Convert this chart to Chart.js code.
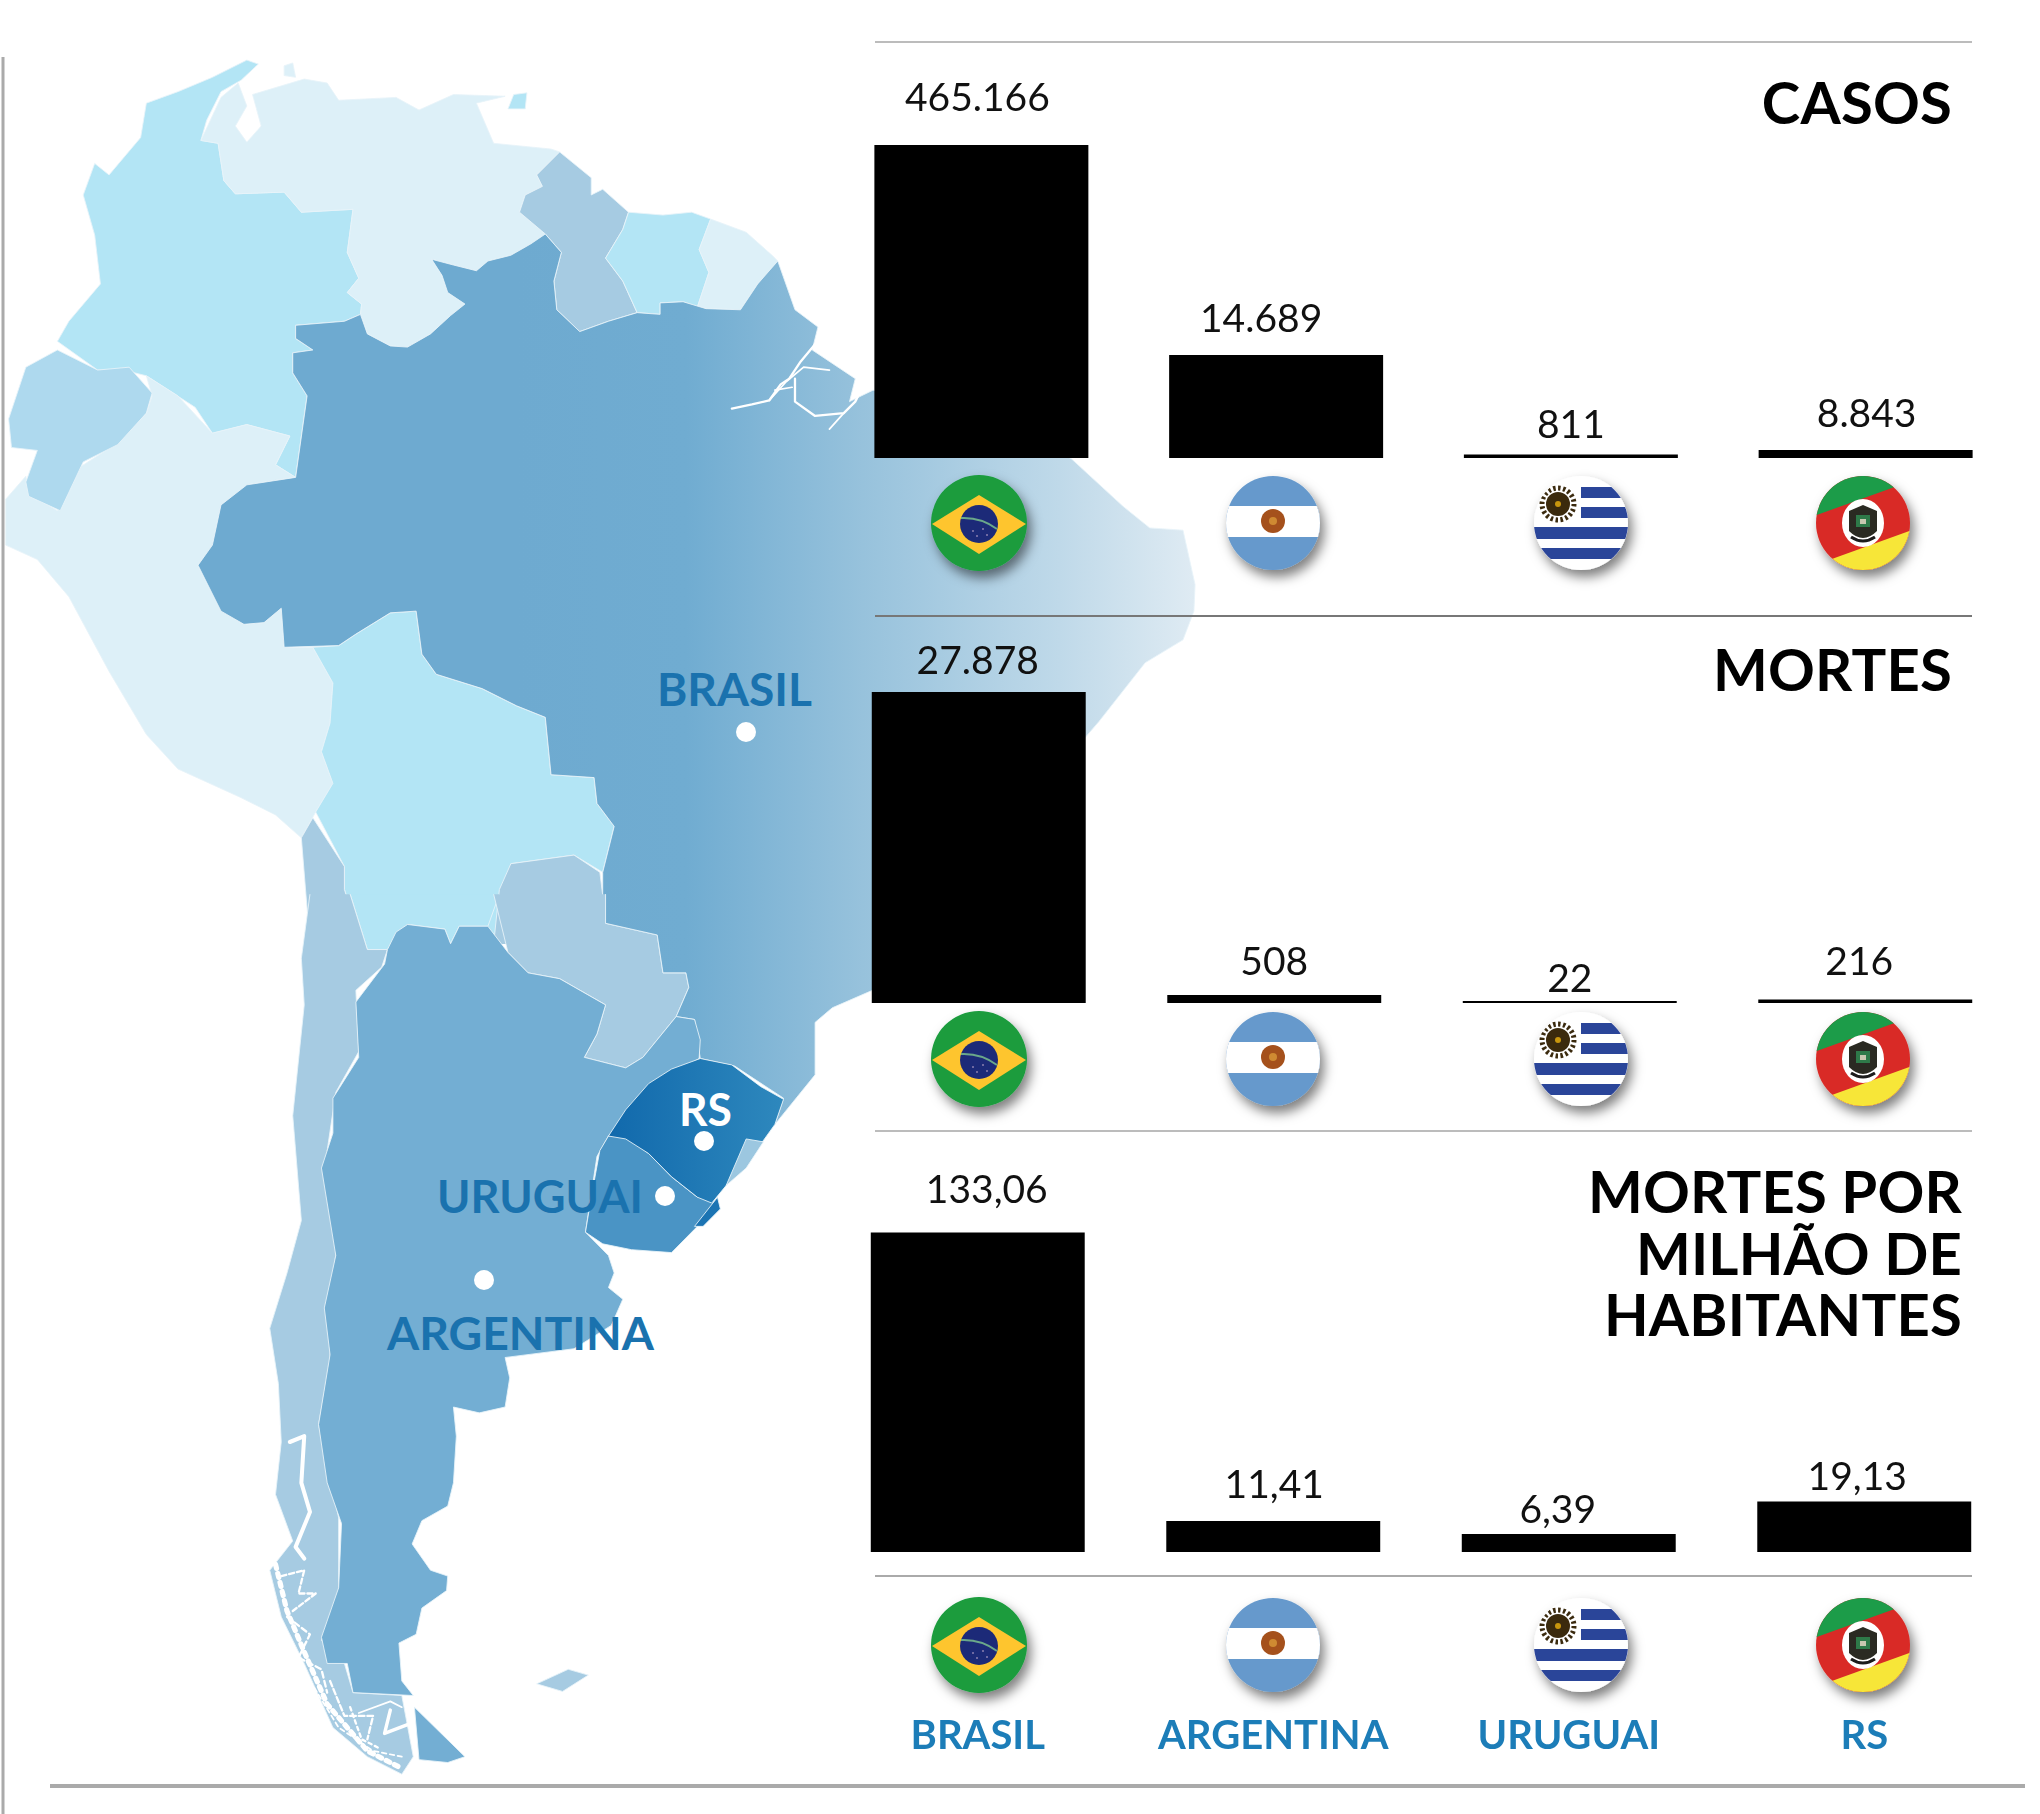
<!DOCTYPE html>
<html lang="pt-BR">
<head>
<meta charset="utf-8">
<title>Covid-19: Brasil, Argentina, Uruguai e RS</title>
<script src="https://cdn.jsdelivr.net/npm/chart.js@4"></script>
<style>
    html, body { margin: 0; padding: 0; background: #fff; }
    #lienzo { position: relative; width: 2040px; height: 1814px; overflow: hidden; font-family: Lato, sans-serif; }
    #lienzo svg, #lienzo canvas { position: absolute; }
    #mapa { left: 0; top: 0; z-index: 0; }
    #encima { left: 0; top: 0; z-index: 2; pointer-events: none; }
    canvas { z-index: 1; }
</style>
</head>
<body>
<div id="lienzo">
    <svg id="mapa" width="2040" height="1814" viewBox="0 0 2040 1814"></svg>
    <canvas id="graficoCasos"></canvas>
    <canvas id="graficoMortes"></canvas>
    <canvas id="graficoMilhao"></canvas>
    <svg id="encima" width="2040" height="1814" viewBox="0 0 2040 1814"></svg>
</div>
<script>
// ==========================================
// 1. DATOS
// ==========================================
const paises = ['BRASIL', 'ARGENTINA', 'URUGUAI', 'RS'];

// Lo que dicen las etiquetas
const casos = ['465.166', '14.689', '811', '8.843'];
const mortes = ['27.878', '508', '22', '216'];
const mortesMilhao = ['133,06', '11,41', '6,39', '19,13'];

// El largo de las barras en la imagen no es proporcional a las etiquetas,
// así que se leen aparte, tal como están dibujadas
const barrasCasos = [313, 103, 3.5, 8];
const barrasMortes = [311, 8, 2, 3.5];
const barrasMilhao = [319.5, 31, 18, 50.5];

// ==========================================
// 2. GRÁFICAS (CHART.JS)
// ==========================================
// Dibuja la etiqueta sobre cada barra; los desplazamientos vienen en options.plugins.etiquetas
const pluginEtiquetas = {
    id: 'etiquetas',
    afterDatasetsDraw(chart, args, opts) {
        const ctx = chart.ctx;
        const barras = chart.getDatasetMeta(0).data;
        ctx.save();
        ctx.font = '39px Lato, sans-serif';
        ctx.fillStyle = '#111';
        ctx.textAlign = 'center';
        ctx.textBaseline = 'alphabetic';
        barras.forEach((b, i) => {
            ctx.fillText(opts.textos[i], b.x + opts.dx[i], b.y - opts.dy[i]);
        });
        ctx.restore();
    }
};

function crearGrafica(id, cfg) {
    const canvas = document.getElementById(id);
    canvas.style.left = cfg.left + 'px';
    canvas.style.top = cfg.top + 'px';
    const conEjeX = cfg.altoEje > 0;

    return new Chart(canvas, {
        type: 'bar',
        plugins: [pluginEtiquetas],
        data: {
            labels: paises,
            datasets: [{
                data: cfg.barras,
                backgroundColor: '#000',
                borderWidth: 0,
                barPercentage: cfg.ancho,
                categoryPercentage: 1
            }]
        },
        options: {
            responsive: false,
            animation: false,
            devicePixelRatio: 1,
            layout: { padding: 0, autoPadding: false },
            plugins: {
                legend: { display: false },
                tooltip: { enabled: false },
                etiquetas: { textos: cfg.textos, dx: cfg.dx, dy: cfg.dy }
            },
            scales: {
                x: {
                    display: conEjeX,
                    border: { display: false },
                    grid: { display: false, drawTicks: false },
                    // El padding de los ticks también encoge el eje a lo ancho, hay que quitarlo
                    afterFit: s => {
                        if (conEjeX) s.height = cfg.altoEje;
                        s.paddingLeft = 0;
                        s.paddingRight = 0;
                    },
                    ticks: {
                        maxRotation: 0,
                        autoSkip: false,
                        padding: 160,
                        color: '#1c7db8',
                        font: { family: 'Lato', size: 40, weight: 'bold' }
                    }
                },
                y: { display: false, min: 0, max: cfg.maxY }
            }
        }
    });
}

function fijarTamano(id, w, h) {
    const c = document.getElementById(id);
    c.width = w;
    c.height = h;
    c.style.width = w + 'px';
    c.style.height = h + 'px';
}

fijarTamano('graficoCasos', 1179, 399);
fijarTamano('graficoMortes', 1182, 364);
fijarTamano('graficoMilhao', 1182, 611);

crearGrafica('graficoCasos', {
    left: 834, top: 59, maxY: 399, altoEje: 0, ancho: 0.726,
    barras: barrasCasos, textos: casos,
    dx: [-4, -15, 0, 1], dy: [34, 23, 17, 23]
});
crearGrafica('graficoMortes', {
    left: 830.5, top: 639, maxY: 364, altoEje: 0, ancho: 0.724,
    barras: barrasMortes, textos: mortes,
    dx: [-1, 0, 0, -6], dy: [18, 20, 9, 25]
});
crearGrafica('graficoMilhao', {
    left: 830, top: 1159, maxY: 393, altoEje: 218, ancho: 0.724,
    barras: barrasMilhao, textos: mortesMilhao,
    dx: [9, 1, -11, -7], dy: [30, 23, 11, 12]
});

// ==========================================
// 3. MAPA DE FONDO (ILUSTRACIÓN, NO SON DATOS)
// ==========================================
const NS = 'http://www.w3.org/2000/svg';

function el(padre, tag, attrs, texto) {
    const n = document.createElementNS(NS, tag);
    Object.keys(attrs).forEach(k => n.setAttribute(k, attrs[k]));
    if (texto) n.textContent = texto;
    padre.appendChild(n);
    return n;
}

const mapa = document.getElementById('mapa');
mapa.innerHTML = `
<defs>
  <linearGradient id="gradBrasil" gradientUnits="userSpaceOnUse" x1="900" x2="2082" y1="0" y2="0">
    <stop offset="0" stop-color="#6eaad0"/><stop offset="0.25" stop-color="#70acd1"/>
    <stop offset="0.51" stop-color="#97c2dc"/><stop offset="0.8" stop-color="#bfd9e9"/>
    <stop offset="1" stop-color="#dfebf3"/>
  </linearGradient>
  <linearGradient id="gradRS" gradientUnits="userSpaceOnUse" x1="1060" x2="1365" y1="0" y2="0">
    <stop offset="0" stop-color="#1169ac"/><stop offset="1" stop-color="#2e88bd"/>
  </linearGradient>
</defs>`;

const CIELO = '#b3e5f5', CLARO = '#ddf0f8', MEDIO = '#a6cbe2', ECUADOR = '#aed9ee', ARG = '#73aed3';
const BORDE = '#e8f3f9';

// Mitad norte, en coordenadas del recorte superior
const norte = el(mapa, 'g', { transform: 'translate(0,40) scale(0.574)' });
// Mitad sur, en coordenadas del recorte inferior
const sur = el(mapa, 'g', { transform: 'translate(0,900) scale(0.574,0.5828)' });

function region(grupo, color, puntos) {
    el(grupo, 'polygon', { points: puntos, fill: color, stroke: BORDE, 'stroke-width': 1.5, 'stroke-linejoin': 'round' });
}

// Los países partidos entre los dos recortes no llevan borde en el corte (y = corte)
function regionCortada(grupo, color, puntos, corte) {
    const p = puntos.split(' ');
    const enCorte = s => Number(s.split(',')[1]) === corte;
    let inicio = 0;
    p.forEach((s, i) => {
        if (enCorte(s) && enCorte(p[(i + 1) % p.length])) inicio = (i + 1) % p.length;
    });
    const abierto = p.slice(inicio).concat(p.slice(0, inicio)).join(' ');
    el(grupo, 'polygon', { points: abierto, fill: color });
    el(grupo, 'polyline', { points: abierto, fill: 'none', stroke: BORDE, 'stroke-width': 1.5, 'stroke-linejoin': 'round' });
}

function trazo(grupo, puntos, ancho, guiones) {
    const a = { points: puntos, fill: 'none', stroke: '#fff', 'stroke-width': ancho, 'stroke-linejoin': 'round', 'stroke-linecap': 'round' };
    if (guiones) a['stroke-dasharray'] = guiones;
    el(grupo, 'polyline', a);
}

region(norte, CIELO, '430,35 450,42 420,70 385,90 360,140 350,175 380,180 390,245 410,268 495,265 525,300 615,295 605,370 625,415 605,440 630,460 628,478 600,490 515,497 515,520 545,540 510,545 510,580 535,620 515,762 480,740 505,690 430,670 370,685 340,640 255,585 215,575 170,575 100,525 120,490 175,425 165,340 145,270 165,215 190,235 245,170 255,110 310,90 370,65');
region(norte, CLARO, '380,180 350,175 385,100 415,75 430,115 410,150 430,178 455,150 440,95 530,68 570,75 590,105 690,100 730,122 790,95 880,98 830,110 860,180 960,190 975,195 935,235 945,255 915,270 905,300 950,338 925,355 890,375 850,385 830,402 790,392 752,382 770,410 780,440 810,460 785,480 750,512 710,535 680,533 640,512 628,478 630,460 605,440 625,415 605,370 615,295 525,300 495,265 410,268 390,245');
region(norte, MEDIO, '975,195 1030,240 1030,270 1050,260 1095,300 1085,330 1055,380 1085,420 1110,475 1060,490 1010,508 970,470 965,420 978,370 950,338 905,300 915,270 945,255 935,235');
region(norte, CIELO, '1095,300 1155,305 1205,300 1238,312 1218,365 1235,405 1215,465 1190,456 1150,458 1150,478 1110,475 1085,420 1055,380 1085,330');
region(norte, CLARO, '1238,312 1300,335 1345,375 1355,385 1320,425 1290,470 1230,468 1215,465 1235,405 1218,365');
region(norte, CIELO, '895,95 918,92 915,120 885,120');
region(norte, CLARO, '495,45 510,40 515,65 495,62');
region(norte, CLARO, '255,585 310,620 370,685 430,670 505,690 480,740 515,762 430,775 385,810 370,880 345,915 385,995 425,1018 460,1015 490,990 495,1058 545,1058 580,1120 575,1190 560,1240 580,1295 550,1345 525,1390 480,1350 420,1320 310,1270 255,1210 190,1100 120,970 65,905 10,880 10,800 45,760 50,790 100,820 130,750 200,705 255,650 265,620');
region(norte, ECUADOR, '100,540 170,575 225,570 265,615 255,650 205,705 145,735 105,820 50,795 45,770 65,715 20,710 15,660 45,570');
regionCortada(norte, CIELO, '545,1058 590,1055 620,1035 680,998 725,995 735,1070 760,1105 840,1130 900,1160 950,1180 960,1280 1035,1285 1040,1330 1070,1370 1050,1450 1000,1420 890,1435 860,1575 630,1575 600,1480 600,1440 550,1345 580,1295 560,1240 575,1190 580,1120', 1575);
regionCortada(norte, MEDIO, '525,1390 545,1355 600,1440 600,1480 630,1575 540,1575', 1575);
regionCortada(norte, MEDIO, '890,1435 1000,1420 1045,1450 1055,1530 1145,1575 860,1575 870,1480', 1575);
regionCortada(norte, 'url(#gradBrasil)', '515,497 600,490 628,478 640,512 680,533 710,535 750,512 785,480 810,460 780,440 770,410 752,382 790,392 830,402 850,385 890,375 925,355 950,338 978,370 965,420 970,470 1010,508 1060,490 1110,475 1150,478 1150,458 1190,456 1230,468 1290,470 1320,425 1355,385 1385,470 1425,500 1415,540 1490,590 1480,630 1521,610 1655,636 1812,697 1867,730 1956,812 2003,850 2061,854 2082,949 2080,995 2061,1045 1995,1085 1914,1188 1812,1306 1707,1498 1672,1575 1145,1575 1050,1530 1050,1450 1070,1370 1040,1330 1035,1285 960,1280 950,1180 900,1160 840,1130 760,1105 735,1070 725,995 680,998 620,1035 590,1055 495,1058 490,990 460,1015 425,1018 385,995 345,915 370,880 385,810 430,775 515,762 535,620 510,580 510,545 545,540 515,520', 1575);
// Desembocadura del Amazonas
trazo(norte, '1275,642 1310,635 1340,628 1360,600 1375,590 1395,560 1420,530', 4);
trazo(norte, '1340,628 1370,595 1400,570 1445,575', 3);
trazo(norte, '1385,590 1385,630 1420,655 1470,650 1490,630 1500,610', 4);
trazo(norte, '1445,678 1470,650', 3);
trazo(norte, '1350,610 1380,605', 3);

regionCortada(sur, CIELO, '610,-10 870,-10 850,45 800,45 785,75 775,50 710,42 675,85 640,85', -10);
regionCortada(sur, MEDIO, '540,-10 610,-10 640,85 675,85 665,115 620,155 625,260 585,330 570,430 590,560 575,700 575,790 555,900 590,1060 590,1200 560,1270 600,1310 615,1360 700,1365 720,1470 700,1500 640,1470 580,1420 530,1310 490,1230 470,1150 510,1100 480,1020 490,930 485,830 470,735 500,640 525,550 510,370 530,180 525,100', -10);
regionCortada(sur, MEDIO, '860,-10 1055,-10 1055,40 1145,60 1155,125 1195,125 1200,150 1178,200 1120,270 1090,288 1018,270 1040,230 1055,180 975,135 920,125 885,90', -10);
regionCortada(sur, 'url(#gradBrasil)', '1055,-10 1055,40 1145,60 1155,125 1195,125 1200,150 1178,200 1210,205 1220,272 1280,285 1365,340 1350,385 1420,300 1420,210 1450,185 1520,155 1700,40 1715,-10', -10);
region(sur, ARG, '710,42 775,50 785,75 800,45 850,45 885,90 920,125 975,135 1055,180 1040,230 1018,270 1090,288 1120,270 1178,200 1210,205 1220,240 1218,272 1130,320 1060,405 1040,440 1020,570 1060,610 1070,640 1060,665 1085,685 1065,730 1000,770 880,785 888,820 880,870 835,880 790,870 795,920 790,1000 780,1040 735,1065 718,1105 750,1150 780,1160 778,1185 735,1215 725,1260 695,1275 700,1340 720,1365 615,1360 605,1310 570,1310 560,1265 590,1180 595,1070 570,1000 555,900 575,780 565,700 585,610 570,520 560,460 580,400 580,340 625,270 620,175 670,110 675,85 690,55');
region(sur, ARG, '722,1385 810,1470 780,1480 730,1475');
region(sur, MEDIO, '935,1345 990,1320 1025,1330 980,1358');
region(sur, '#4a94c5', '1060,405 1090,405 1130,435 1170,475 1215,510 1240,500 1245,530 1210,565 1170,605 1100,600 1050,590 1020,570 1030,510 1045,430');
region(sur, 'url(#gradRS)', '1220,272 1275,283 1325,320 1365,342 1350,385 1310,440 1265,490 1240,520 1215,510 1170,475 1130,435 1090,410 1060,405 1090,360 1130,315 1170,290');
region(sur, '#9cc7e0', '1265,490 1300,410 1330,415 1300,460');
region(sur, '#1b74b3', '1210,560 1250,510 1255,530 1225,560');

// Fiordos del sur de Chile: mucho recorte blanco y fino
trazo(sur, '505,930 530,920 525,1000 540,1050 515,1110 530,1130', 7);
trazo(sur, '490,1160 530,1150 520,1190 550,1190 510,1220', 4, '9 5');
trazo(sur, '480,1140 500,1220 530,1290 570,1380 640,1460 700,1490', 9, '7 9');
trazo(sur, '500,1230 540,1260 520,1300 560,1320 570,1360', 4, '10 6');
trazo(sur, '575,1340 600,1400 650,1400 640,1440', 4, '10 5');
trazo(sur, '680,1390 670,1430 710,1415', 6);
trazo(sur, '625,1395 680,1375 700,1385', 3);
trazo(sur, '540,1340 590,1420 650,1460 700,1470', 3, '8 6');
trazo(sur, '610,1385 630,1440 660,1455', 4, '6 6');

function etiquetaMapa(x, y, texto, color, ancho) {
    el(mapa, 'text', { x, y, fill: color, 'font-family': 'Lato', 'font-weight': 700, 'font-size': 46, textLength: ancho, lengthAdjust: 'spacingAndGlyphs' }, texto);
}
etiquetaMapa(657, 706, 'BRASIL', '#1a72ae', 155);
etiquetaMapa(679, 1126, 'RS', '#fff', 53);
etiquetaMapa(437, 1213, 'URUGUAI', '#1a72ae', 206);
etiquetaMapa(387, 1350, 'ARGENTINA', '#1a72ae', 267);
[[746, 732], [704, 1141], [665, 1196], [484, 1280]].forEach(p => {
    el(mapa, 'circle', { cx: p[0], cy: p[1], r: 10, fill: '#fff' });
});

// ==========================================
// 4. LÍNEAS, TÍTULOS Y BANDERAS
// ==========================================
const encima = document.getElementById('encima');
encima.innerHTML = `
<defs>
  <clipPath id="disco"><circle r="47"/></clipPath>
  <filter id="sombra" x="-40%" y="-40%" width="190%" height="190%">
    <feDropShadow dx="4" dy="7" stdDeviation="6" flood-color="#000" flood-opacity="0.5"/>
  </filter>
  <g id="flag-BRASIL">
    <circle r="48" fill="#1a9c3e"/>
    <polygon points="-47,1 0,-28 47,1 0,31" fill="#fec52e"/>
    <circle cy="1" r="19" fill="#1e2a78"/>
    <path d="M-18,-5 Q2,-6 18,6" stroke="#6aa88a" stroke-width="2" fill="none"/>
    <circle cx="-6" cy="8" r="1" fill="#8a7fb0"/><circle cx="4" cy="6" r="1" fill="#8a7fb0"/><circle cx="8" cy="12" r="1" fill="#8a7fb0"/><circle cx="-2" cy="13" r="1" fill="#8a7fb0"/>
  </g>
  <g id="flag-ARGENTINA" clip-path="url(#disco)">
    <rect x="-48" y="-48" width="96" height="96" fill="#6699cc"/>
    <rect x="-48" y="-17" width="96" height="31" fill="#fff"/>
    <circle cy="-2" r="12" fill="#a5511c"/><circle cy="-2" r="4" fill="#cf8a32"/>
  </g>
  <g id="flag-URUGUAI" clip-path="url(#disco)">
    <rect x="-48" y="-48" width="96" height="96" fill="#fff"/>
    <rect x="0" y="-36" width="48" height="11" fill="#2b4499"/>
    <rect x="0" y="-16" width="48" height="11" fill="#2b4499"/>
    <rect x="-48" y="4" width="96" height="12" fill="#2b4499"/>
    <rect x="-48" y="25" width="96" height="11" fill="#2b4499"/>
    <circle cx="-23" cy="-19" r="12" fill="#3a2a10"/>
    <circle cx="-23" cy="-19" r="16" fill="none" stroke="#3a2a10" stroke-width="5" stroke-dasharray="2.5 2.5"/>
    <circle cx="-23" cy="-19" r="3" fill="#c8960f"/>
  </g>
  <g id="flag-RS" clip-path="url(#disco)">
    <circle r="48" fill="#d92a26"/>
    <polygon points="-60,-3 40,-39 40,-60 -60,-60" fill="#1a9c4a"/>
    <polygon points="-45,41 60,3 60,60 -45,60" fill="#f7e637"/>
    <ellipse rx="21" ry="24" fill="#fff"/>
    <path d="M-14,-12 L0,-18 L14,-12 L14,8 Q0,22 -14,8 Z" fill="#2a2a20"/>
    <rect x="-7" y="-8" width="14" height="12" fill="#2f7a4a"/>
    <rect x="-3" y="-4" width="6" height="5" fill="#c8c8b0"/>
    <path d="M-12,14 Q0,22 12,14" stroke="#1c1c1c" stroke-width="3" fill="none"/>
  </g>
</defs>`;

// Separadores horizontales
[[42, '#bcbcbc'], [616, '#777'], [1131, '#bcbcbc'], [1576, '#aaa']].forEach(l => {
    el(encima, 'line', { x1: 875, x2: 1972, y1: l[0], y2: l[0], stroke: l[1], 'stroke-width': 2 });
});
el(encima, 'line', { x1: 3, x2: 3, y1: 57, y2: 1814, stroke: '#aaa', 'stroke-width': 3 });
el(encima, 'line', { x1: 50, x2: 2025, y1: 1786, y2: 1786, stroke: '#aaa', 'stroke-width': 4 });

function titulo(x, y, texto) {
    el(encima, 'text', { x, y, 'text-anchor': 'end', fill: '#000', 'font-family': 'Lato', 'font-weight': 700, 'font-size': 58, 'letter-spacing': 0.2 }, texto);
}
titulo(1952, 124, 'CASOS');
titulo(1952, 691, 'MORTES');
titulo(1962, 1213, 'MORTES POR');
titulo(1962, 1275, 'MILHÃO DE');
titulo(1962, 1336, 'HABITANTES');

const xBanderas = [979, 1273, 1581, 1863];
[523, 1059, 1645].forEach(y => {
    paises.forEach((p, i) => {
        const g = el(encima, 'g', { transform: `translate(${xBanderas[i]},${y})`, filter: 'url(#sombra)' });
        el(g, 'use', { href: '#flag-' + p });
    });
});
</script>
</body>
</html>
